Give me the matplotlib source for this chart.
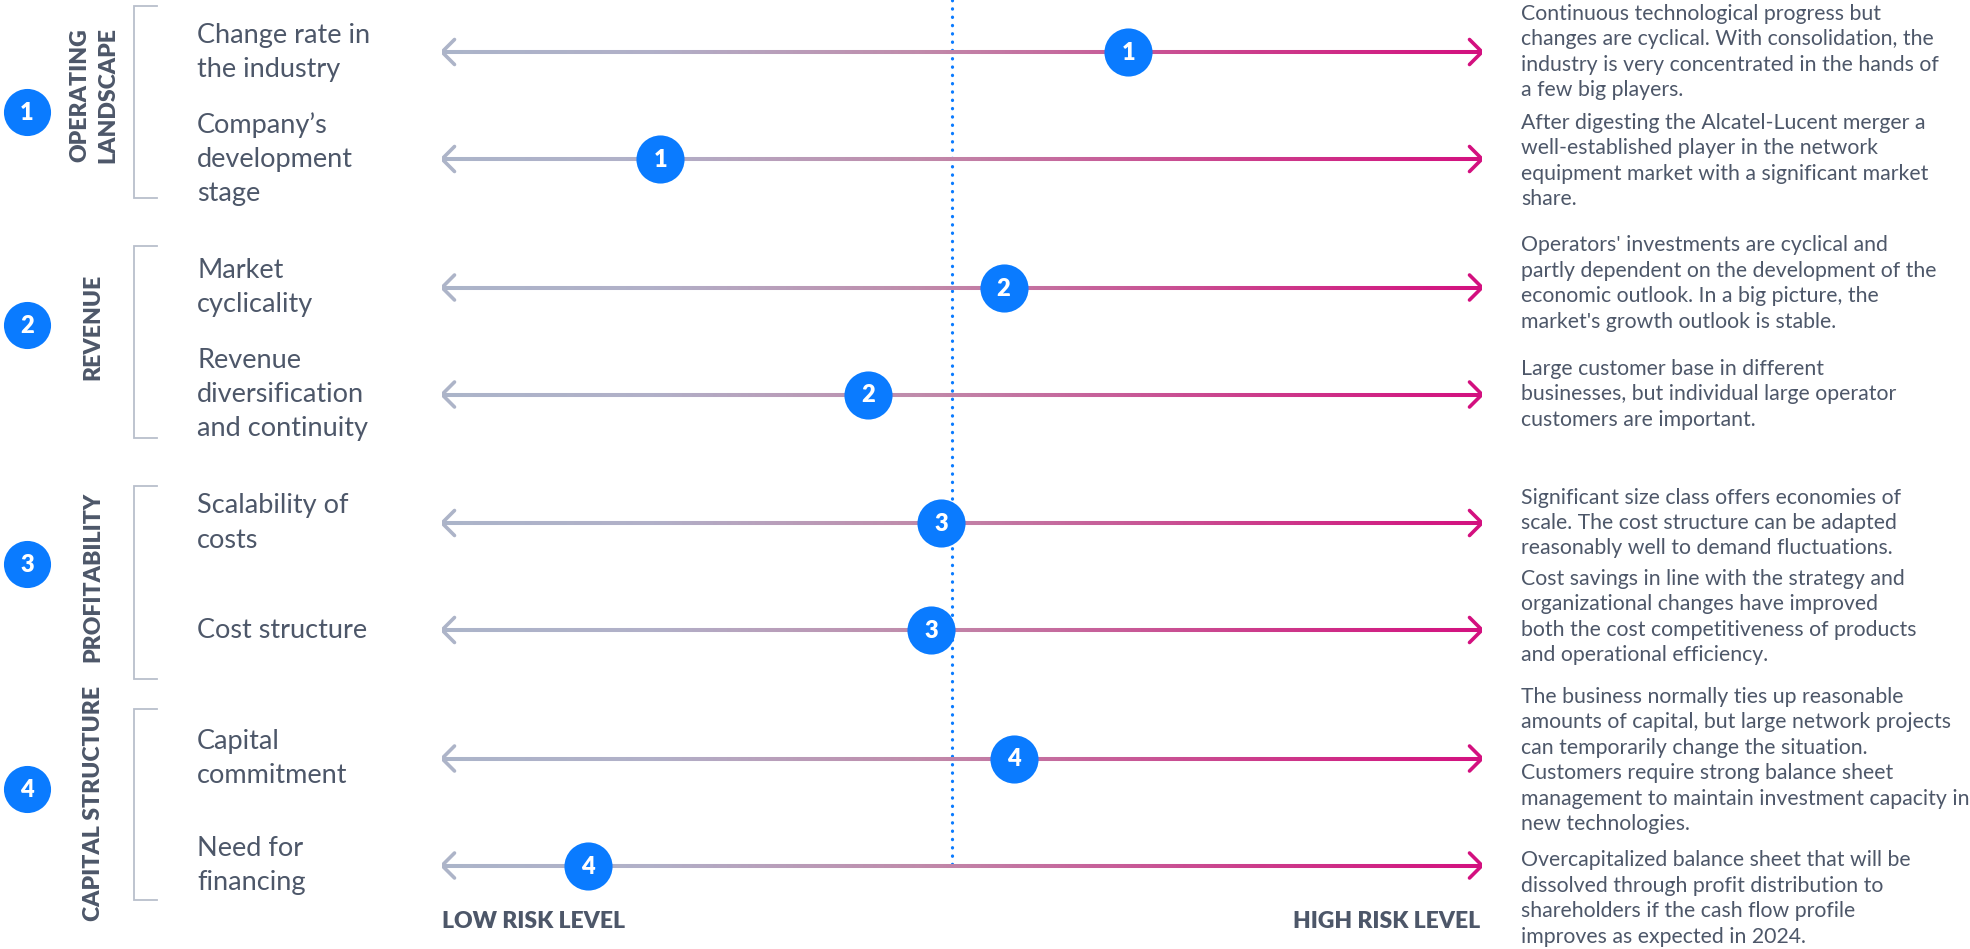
import numpy as np
import matplotlib
matplotlib.use("Agg")
import matplotlib.pyplot as plt
from matplotlib.collections import LineCollection
from matplotlib.colors import LinearSegmentedColormap

plt.rcParams['font.family'] = ['Lato', 'DejaVu Sans']

# data
groups = ["OPERATING\nLANDSCAPE", "REVENUE", "PROFITABILITY", "CAPITAL STRUCTURE"]
row_group = [0, 0, 1, 1, 2, 2, 3, 3]
factors = ["Change rate in\nthe industry",
           "Company’s\ndevelopment\nstage",
           "Market\ncyclicality",
           "Revenue\ndiversification\nand continuity",
           "Scalability of\ncosts",
           "Cost structure",
           "Capital\ncommitment",
           "Need for\nfinancing"]
# risk position on a 0 (low) .. 10 (high) scale
risk = [6.6, 2.1, 5.4, 4.1, 4.8, 4.7, 5.5, 1.4]
reference_level = 4.9
comments = [
    "Continuous technological progress but\nchanges are cyclical. With consolidation, the\nindustry is very concentrated in the hands of\na few big players.",
    "After digesting the Alcatel-Lucent merger a\nwell-established player in the network\nequipment market with a significant market\nshare.",
    "Operators' investments are cyclical and\npartly dependent on the development of the\neconomic outlook. In a big picture, the\nmarket's growth outlook is stable.",
    "Large customer base in different\nbusinesses, but individual large operator\ncustomers are important.",
    "Significant size class offers economies of\nscale. The cost structure can be adapted\nreasonably well to demand fluctuations.",
    "Cost savings in line with the strategy and\norganizational changes have improved\nboth the cost competitiveness of products\nand operational efficiency.",
    "The business normally ties up reasonable\namounts of capital, but large network projects\ncan temporarily change the situation.\nCustomers require strong balance sheet\nmanagement to maintain investment capacity in\nnew technologies.",
    "Overcapitalized balance sheet that will be\ndissolved through profit distribution to\nshareholders if the cash flow profile\nimproves as expected in 2024.",
]
low_label = "LOW RISK LEVEL"
high_label = "HIGH RISK LEVEL"

# styles / layout (pixels, figure is 1970 x 949)
W, H = 1970, 949
TXT = "#4d5769"
BLUE = "#0a7bff"
GRAY = "#b9bfcc"
arrow_cmap = LinearSegmentedColormap.from_list(
    "risk", [(0, "#abb4c9"), (0.2, "#b1b0c8"), (0.46, "#c08aaa"),
             (0.79, "#cc3a8a"), (1, "#d3107f")])
x0, x1 = 442, 1482
row_y = [52 + i * 107 + row_group[i] * 21.5 for i in range(len(factors))]
desc_shift = [0, 2, -4, 0, 0, -13, 2, 33]
brackets = [(6, 198), (246, 438), (486, 679), (709, 900)]
group_circle_y = [112, 325, 564, 789]
group_label_y = [95, 327, 577, 803]

fig = plt.figure(figsize=(W / 100, H / 100), dpi=100)
renderer = fig.canvas.get_renderer()


def fit_size(s, width_px, weight="normal"):
    t = fig.text(0, 0, s, fontsize=20, fontweight=weight)
    w = t.get_window_extent(renderer).width
    t.remove()
    return 20 * width_px / w


fs_row = fit_size("Cost structure", 171)
fs_desc = fit_size("Overcapitalized balance sheet that will be", 389)
fs_group = fit_size("OPERATING", 134, "heavy")
fs_axis = fit_size(low_label, 183, "heavy")

lay = fig.add_axes([0, 0, 1, 1])
lay.set_xlim(0, W)
lay.set_ylim(H, 0)
lay.axis("off")

ax = fig.add_axes([x0 / W, 0, (x1 - x0) / W, 1])
ax.set_xlim(0, 10)
ax.set_ylim(H, 0)
ax.axis("off")

px = 10 / (x1 - x0)  # risk units per pixel

# reference line
ax.plot([reference_level, reference_level], [0, 867], color=BLUE, lw=2.3,
        linestyle=(0, (0.1, 2.5)), dash_capstyle="round", zorder=1)

xs = np.linspace(0, 10, 300)
for i, y in enumerate(row_y):
    pts = np.array([[xs[:-1], [y] * (len(xs) - 1)], [xs[1:], [y] * (len(xs) - 1)]])
    segs = pts.transpose(2, 0, 1)
    lc = LineCollection(segs, colors=arrow_cmap(xs[:-1] / 10), linewidths=2.9,
                        capstyle="butt", zorder=2)
    ax.add_collection(lc)
    ax.plot([12.5 * px, 0, 12.5 * px], [y - 12.5, y, y + 12.5], color="#adb4c8",
            lw=2.6, solid_capstyle="round", solid_joinstyle="miter", zorder=2)
    ax.plot([10 - 12.5 * px, 10, 10 - 12.5 * px], [y - 12.5, y, y + 12.5],
            color="#d3107f", lw=2.6, solid_capstyle="round",
            solid_joinstyle="miter", zorder=2)
    ax.scatter([risk[i]], [y], s=1200, color=BLUE, zorder=3, linewidths=0)
    ax.text(risk[i], y + 1, str(row_group[i] + 1), color="white",
            fontsize=17, fontweight="heavy", ha="center", va="center", zorder=4)

    # factor label
    lines = factors[i].split("\n")
    for k, line in enumerate(lines):
        lay.text(197, y + (k - (len(lines) - 1) / 2) * 34, line, color=TXT,
                 fontsize=fs_row, ha="left", va="center")

    # comment
    lines = comments[i].split("\n")
    cy = y + desc_shift[i]
    for k, line in enumerate(lines):
        lay.text(1521, cy + (k - (len(lines) - 1) / 2) * 25.5, line, color=TXT,
                 fontsize=fs_desc, ha="left", va="center")

# groups
for g, name in enumerate(groups):
    top, bot = brackets[g]
    lay.plot([157, 134, 134, 157], [top, top, bot, bot], color=GRAY, lw=1.3,
             solid_joinstyle="miter")
    lay.scatter([27], [group_circle_y[g]], s=1150, color=BLUE, linewidths=0)
    lay.text(27, group_circle_y[g] + 1, str(g + 1), color="white", fontsize=17,
             fontweight="heavy", ha="center", va="center")
    lines = name.split("\n")
    if len(lines) == 2:
        xs_lab = [80, 108]
    else:
        xs_lab = [93]
    for k, line in enumerate(lines):
        lay.text(xs_lab[k], group_label_y[g], line, color=TXT, fontsize=fs_group,
                 fontweight="heavy", rotation=90, ha="center", va="center")

lay.text(x0, 922, low_label, color=TXT, fontsize=fs_axis, fontweight="heavy",
         ha="left", va="center")
lay.text(1480, 922, high_label, color=TXT, fontsize=fs_axis, fontweight="heavy",
         ha="right", va="center")

fig.savefig("out.png", dpi=100)
